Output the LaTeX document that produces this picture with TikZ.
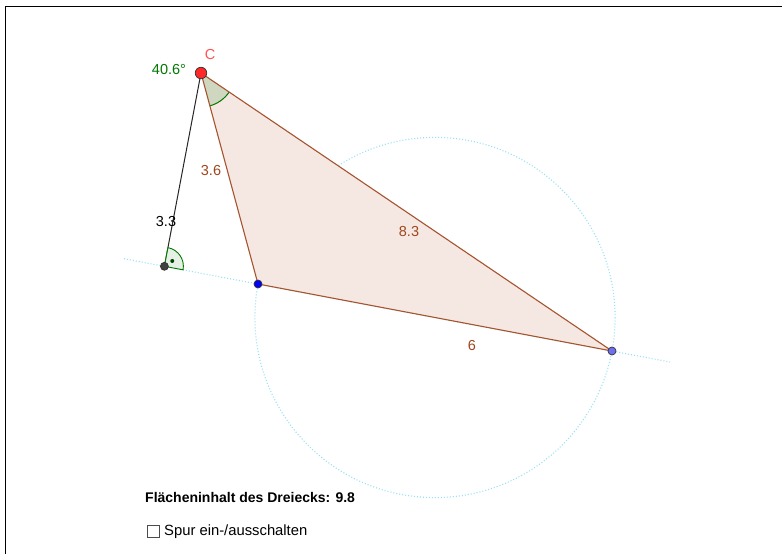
\documentclass[tikz,border=0pt]{standalone}
\usepackage{fontspec}
\setmainfont{Liberation Sans}
\usetikzlibrary{calc}
\definecolor{seg}{RGB}{166,84,46}
\definecolor{tri}{RGB}{245,232,227}
\definecolor{dotc}{RGB}{150,225,245}
\definecolor{ggreen}{RGB}{0,120,0}
\definecolor{ptred}{RGB}{255,40,40}
\definecolor{ptB}{RGB}{110,110,240}
\definecolor{labc}{RGB}{160,70,30}
\tikzset{
  lbl/.style={font=\fontsize{14.5}{16}\selectfont, inner sep=0pt},
  pt/.style={circle, draw=black!80, line width=0.7pt, inner sep=0pt, minimum size=#1},
  auxline/.style={dotc, line width=1.1pt, dash pattern=on 1pt off 2pt},
}
\begin{document}
\begin{tikzpicture}[x=1pt,y=-1pt]
\useasboundingbox (0,0) rectangle (782,554);
\fill[white] (0,0) rectangle (782,554);
\draw[line width=1pt] (5,554) -- (5,6) -- (782,6);
% coordinates
\coordinate (A) at (258,284);
\coordinate (B) at (612,351);
\coordinate (C) at (201,73);
\coordinate (F) at (164.4,266.3);
\coordinate (L1) at (124,258.7);
\coordinate (L2) at (670,362);
\coordinate (M) at (435,317.5);
% thales circle
\draw[auxline] (M) circle (180.1);
% line through A,B
\draw[auxline] (L1) -- (L2);
% triangle
\fill[tri] (A) -- (B) -- (C) -- cycle;
% angle at C
\fill[ggreen!15!tri] (C) -- ++(74.9:34) arc[start angle=74.9, end angle=34.07, radius=34] -- cycle;
\draw[ggreen, line width=1pt] ($(C)+(74.9:34)$) arc[start angle=74.9, end angle=34.07, radius=34];
\draw[seg, line width=1.1pt] (A) -- (B) -- (C) -- cycle;
% perpendicular
\draw[black!85, line width=1pt] (C) -- (F);
% right angle mark
\fill[ggreen!10] (F) -- ++(10.7:19) arc[start angle=10.7, end angle=-79.1, radius=19] -- cycle;
\draw[ggreen, line width=0.9pt] (F) -- ++(10.7:19) arc[start angle=10.7, end angle=-79.1, radius=19] -- cycle;
\fill[ggreen!60!black] ($(F)+(-34.2:9.5)$) circle (2);
% points
\node[pt=11.5pt, fill=ptred] (Cp) at (C) {};
\node[pt=8pt, fill=blue] (Ap) at (A) {};
\node[pt=8pt, fill=ptB] (Bp) at (B) {};
\node[pt=8pt, fill=black!75] (Fp) at (F) {};
% labels
\node[lbl, text=ptred!80] (lC) at (210,55) {C};
\node[lbl, text=ggreen] (lang) at (169,70) {40.6°};
\node[lbl, text=labc] (l36) at (211,171) {3.6};
\node[lbl, text=labc] (l83) at (409,232) {8.3};
\node[lbl, text=labc] (l6) at (472,346) {6};
\node[lbl, text=black] (l33) at (166,222) {3.3};
% bottom text
\node[lbl, anchor=west, font=\fontsize{14}{16}\selectfont\bfseries] (area) at (145,497) {Flächeninhalt des Dreiecks: 9.8};
\node[draw=black!70, line width=0.6pt, minimum size=12pt, inner sep=0pt] (box) at (153,531.5) {};
\node[lbl, anchor=west, font=\fontsize{14.8}{16}\selectfont] (spur) at (164,532) {Spur ein-/ausschalten};
\end{tikzpicture}
\end{document}
